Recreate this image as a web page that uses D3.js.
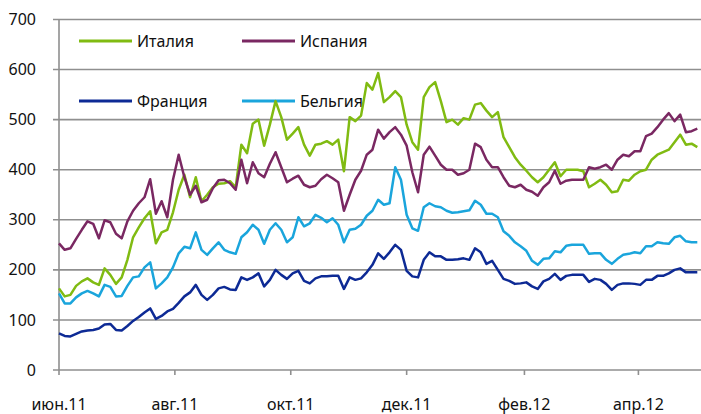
<!DOCTYPE html>
<html>
<head>
<meta charset="utf-8">
<script src="https://cdn.jsdelivr.net/npm/d3@7"></script>
<style>
  body { margin: 0; background: #fff; }
  svg { display: block; font-family: "Noto Sans", "Open Sans", sans-serif; }
</style>
</head>
<body>
<div id="chart"></div>
<script>
// sample grid: every 3 days starting 1 June 2011
const startDate = "2011-06-01";
const stepDays = 3;

const italy = [
  163,147,150,168,177,183,175,170,203,190,
  172,185,220,265,285,303,317,253,275,280,
  315,360,390,345,385,337,350,365,372,373,
  377,365,450,433,492,500,448,490,537,505,
  460,472,485,450,428,450,452,457,450,460,
  397,505,497,508,573,560,593,535,545,557,
  545,490,455,440,545,565,575,537,495,500,
  490,503,500,530,533,518,505,515,465,445,
  425,410,398,385,375,385,400,415,387,400,
  400,400,397,365,372,380,370,355,357,380,
  378,390,397,400,420,430,435,440,455,470,
  450,452,445
];

const spain = [
  253,240,243,262,280,297,292,263,299,295,
  272,263,297,318,333,345,381,312,337,305,
  380,430,385,350,368,335,340,363,379,380,
  373,360,420,373,415,393,385,412,435,405,
  375,382,388,370,365,368,381,390,383,375,
  318,350,380,398,430,440,480,462,475,485,
  470,448,395,355,430,446,428,410,400,400,
  390,393,400,452,445,420,405,405,385,368,
  365,370,360,356,348,365,375,398,372,378,
  380,380,380,405,402,405,410,400,420,430,
  427,437,437,467,472,485,500,513,497,510,
  475,477,482
];

const belgium = [
  153,133,133,145,153,158,153,147,170,166,
  147,148,168,185,187,205,215,163,173,185,
  205,233,246,243,275,240,230,243,255,240,
  235,232,265,275,290,280,252,280,293,280,
  255,265,305,287,293,310,304,295,303,290,
  255,280,282,290,308,318,340,330,333,405,
  380,310,283,278,325,333,327,325,318,314,
  315,317,319,338,330,312,312,305,277,268,
  255,247,238,218,210,222,223,237,235,248,
  250,250,250,232,233,233,220,212,222,230,
  232,235,233,247,247,255,253,252,265,268,
  257,255,255
];

const france = [
  73,68,67,72,77,79,80,83,91,92,
  80,79,88,98,106,115,123,102,108,117,
  122,134,147,155,170,150,140,150,163,166,
  161,160,185,180,185,193,167,180,200,190,
  182,193,198,178,173,183,187,187,188,188,
  162,185,180,183,195,210,233,222,235,250,
  240,198,187,185,220,235,227,227,220,220,
  221,223,220,243,235,212,218,200,182,178,
  172,173,175,167,162,177,182,192,180,188,
  190,190,190,176,182,180,172,160,170,173,
  173,172,170,180,180,188,188,193,200,203,
  195,195,195
];

const tickDates = ["2011-06-01", "2011-08-01", "2011-10-01", "2011-12-01", "2012-02-01", "2012-04-01"];
const tickLabels = ["июн.11", "авг.11", "окт.11", "дек.11", "фев.12", "апр.12"];
const yTicks = [0, 100, 200, 300, 400, 500, 600, 700];

const series = [
  { name: "Италия", values: italy, color: "#80bb12" },
  { name: "Испания", values: spain, color: "#7a2862" },
  { name: "Франция", values: france, color: "#0d2a95" },
  { name: "Бельгия", values: belgium, color: "#1aa5dc" }
];

const width = 701, height = 414;
const parse = d3.timeParse("%Y-%m-%d");
const start = parse(startDate);
const dates = italy.map((_, i) => d3.timeDay.offset(start, i * stepDays));

const x = d3.scaleTime()
    .domain([start, parse("2012-05-05")])
    .range([59, 703]);

const y = d3.scaleLinear()
    .domain([0, 700])
    .range([370, 19.5]);

const svg = d3.select("#chart").append("svg")
    .attr("width", width)
    .attr("height", height);

const gridColor = "#8f8f8f";

// horizontal grid + little ticks left of the axis
svg.append("g")
  .selectAll("line")
  .data(yTicks)
  .join("line")
    .attr("x1", 53)
    .attr("x2", width)
    .attr("y1", d => y(d))
    .attr("y2", d => y(d))
    .attr("stroke", gridColor)
    .attr("stroke-width", 1.6);

svg.append("g")
    .attr("font-size", 16)
    .attr("fill", "#111")
    .attr("text-anchor", "end")
  .selectAll("text")
  .data(yTicks)
  .join("text")
    .attr("x", 36)
    .attr("y", d => y(d))
    .attr("dy", "0.35em")
    .text(d => d);

// y axis line
svg.append("line")
    .attr("x1", 59).attr("x2", 59)
    .attr("y1", y(700)).attr("y2", y(0))
    .attr("stroke", gridColor)
    .attr("stroke-width", 1.6);

// x axis ticks and labels
const xTicks = tickDates.map(parse);
svg.append("g")
  .selectAll("line")
  .data(xTicks)
  .join("line")
    .attr("x1", d => x(d))
    .attr("x2", d => x(d))
    .attr("y1", y(0))
    .attr("y2", y(0) + 5)
    .attr("stroke", gridColor)
    .attr("stroke-width", 1.6);

svg.append("g")
    .attr("font-size", 16)
    .attr("fill", "#111")
    .attr("text-anchor", "middle")
  .selectAll("text")
  .data(xTicks)
  .join("text")
    .attr("x", d => x(d))
    .attr("y", 404)
    .attr("dy", "0.35em")
    .text((d, i) => tickLabels[i]);

// legend
const legendPos = [[79, 41], [242, 41], [79, 101], [242, 101]];
const legend = svg.append("g")
  .selectAll("g")
  .data(series)
  .join("g")
    .attr("transform", (d, i) => `translate(${legendPos[i][0]},${legendPos[i][1]})`);

legend.append("line")
    .attr("x1", 0).attr("x2", 53)
    .attr("stroke", d => d.color)
    .attr("stroke-width", 3);

legend.append("text")
    .attr("x", 58)
    .attr("dy", "0.35em")
    .attr("font-size", 16)
    .attr("fill", "#111")
    .text(d => d.name);

// lines
const line = d3.line()
    .x((d, i) => x(dates[i]))
    .y(d => y(d));

svg.append("g")
    .attr("fill", "none")
    .attr("stroke-width", 2.5)
    .attr("stroke-linejoin", "round")
  .selectAll("path")
  .data(series)
  .join("path")
    .attr("stroke", d => d.color)
    .attr("d", d => line(d.values));
</script>
</body>
</html>
